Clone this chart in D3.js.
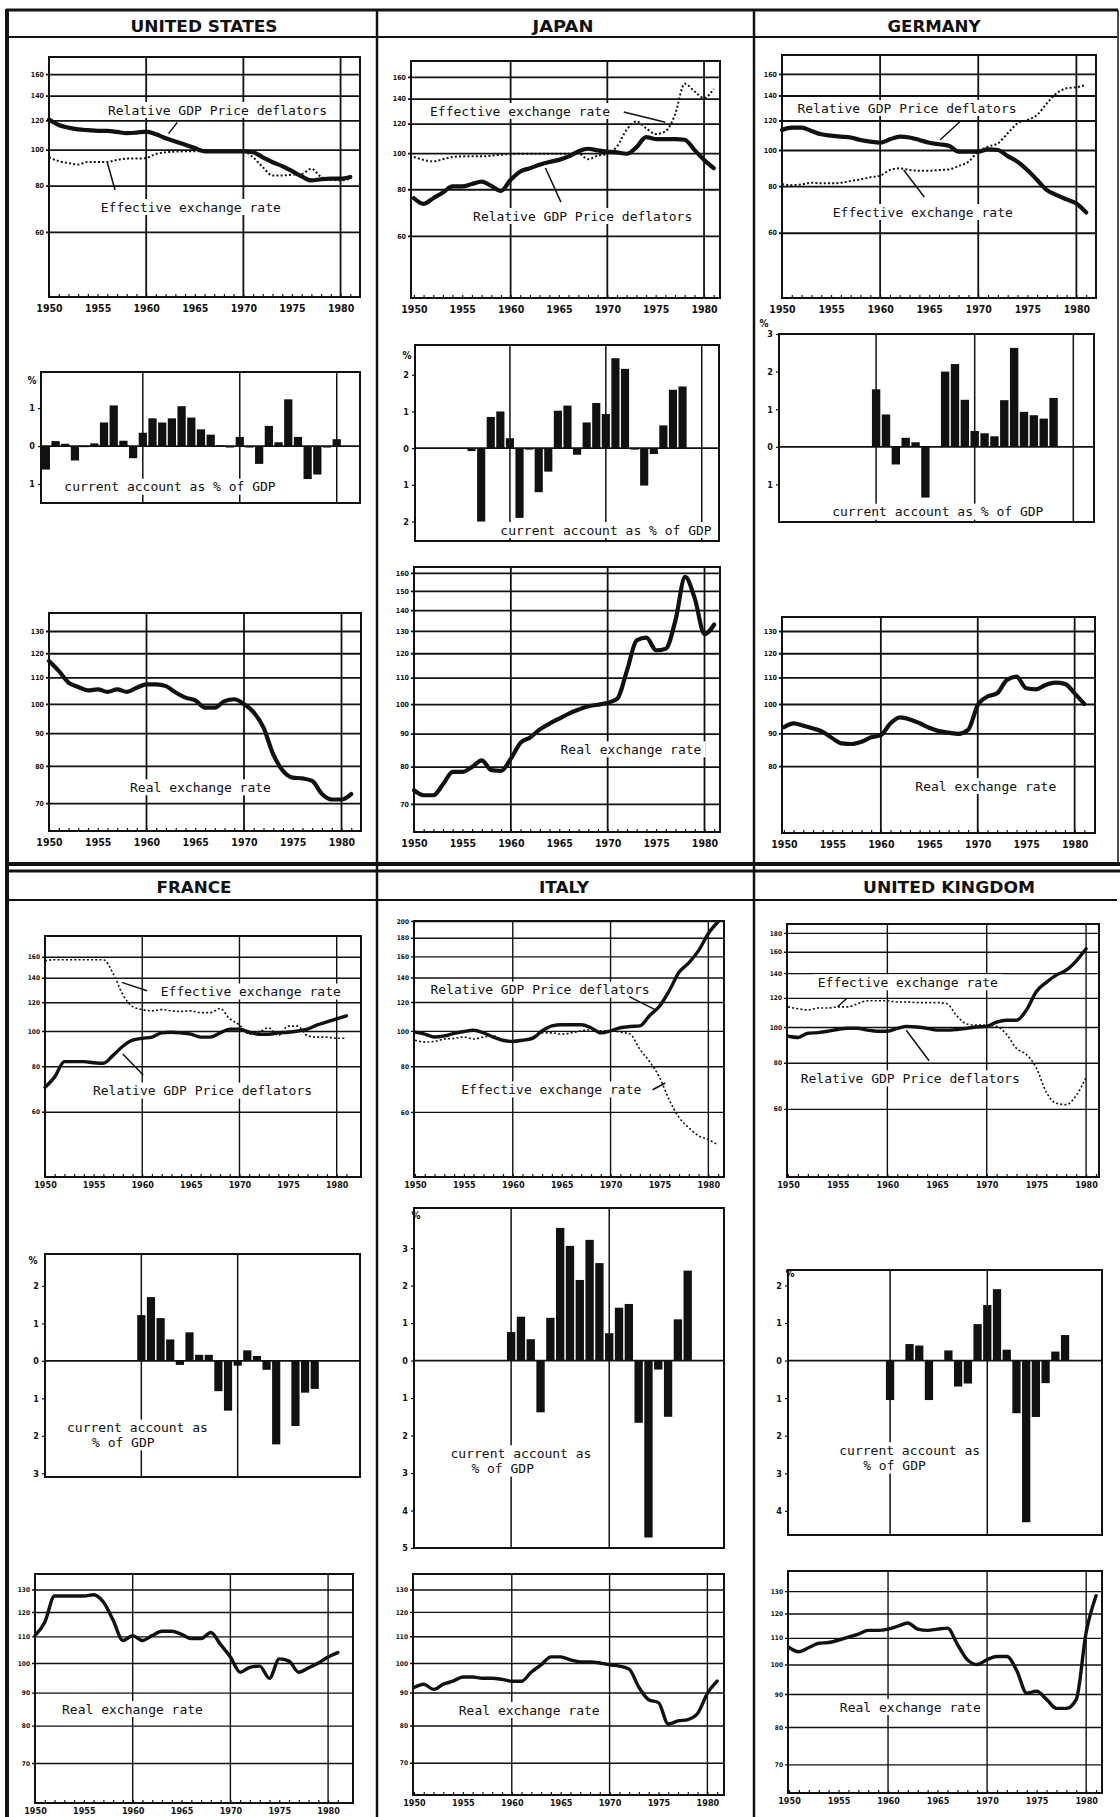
<!DOCTYPE html>
<html>
<head>
<meta charset="utf-8">
<script src="https://cdn.jsdelivr.net/npm/d3@7"></script>
<style>
body{margin:0;background:#fff;}
svg{display:block;}
</style>
</head>
<body>
<svg id="chart" width="1120" height="1817"></svg>
<script>
// years on the x axis
const years=[1950,1951,1952,1953,1954,1955,1956,1957,1958,1959,1960,1961,1962,1963,1964,1965,1966,1967,1968,1969,1970,1971,1972,1973,1974,1975,1976,1977,1978,1979,1980,1981];
const yearLabels=[1950,1955,1960,1965,1970,1975,1980];
const gridYears=[1960,1970,1980];

// relative GDP price deflators / effective exchange rate / current account (% of GDP) / real exchange rate
const usDeflator=[120.7,116.6,114.7,113.5,112.9,112.4,112.4,111.7,110.8,111.2,111.9,110.1,107.4,105.3,103.1,101,99,99,99,99,99,98.4,95.4,92.5,90.3,87.5,84.7,82.6,83.2,83.5,83.5,84.4];
const usEffective=[95.4,93.1,92,91.2,92.7,92.7,92.7,93.8,94.6,94.6,95,97.4,98.4,98.8,99,99,99,99,99,99,99,95.4,89.7,85.2,85.2,85.6,86,88.8,84.4,83,82.6,83.5];
const usCurrent=[-0.62,0.13,0.06,-0.38,0.01,0.07,0.62,1.07,0.14,-0.32,0.35,0.73,0.62,0.73,1.05,0.75,0.44,0.3,0.02,0,0.24,-0.04,-0.47,0.53,0.1,1.23,0.24,-0.87,-0.75,-0.02,0.18,null];
const usReal=[116.7,112.6,108,106.3,105,105.4,104.4,105.4,104.4,106,107.3,107.3,106.6,104.2,102.3,101.3,98.7,98.7,101,101.7,99.9,97,91.8,83.4,78.6,76.7,76.5,75.8,72.3,70.9,70.9,72.3];

const jpDeflator=[75.7,73.1,75.7,78.4,81.4,81.4,82.6,83.9,81.7,79.2,84.8,89.3,91.1,93,94.6,95.9,98,101,102.7,101.7,101,100.4,99.6,103.6,110.4,109,109,109,108.6,102,95.9,91.1];
const jpEffective=[97.6,95.9,95,96.3,97.6,98,98,98,98.4,99,99.6,99.6,99.6,99.6,99.6,99.6,99.6,100,96.3,98.4,99.6,104.2,115.5,121.6,116.7,112.5,114.3,126.8,153.5,146.4,140.5,148.6];
const jpCurrent=[null,null,null,null,null,null,-0.08,-2.0,0.85,1.0,0.27,-1.9,-0.02,-1.2,-0.64,1.02,1.16,-0.18,0.7,1.23,0.93,2.45,2.16,-0.03,-1.02,-0.16,0.62,1.59,1.68,null,null,null];
const jpReal=[73.5,72.2,72.2,75.1,78.5,78.5,79.9,81.8,79,78.8,82.3,87.1,88.8,91.4,93.3,95,96.7,98.1,99.3,99.8,100.5,102,112.9,125.7,126.9,121.3,122,135,157.7,145.9,128.5,133];

const deDeflator=[113.2,114.8,114.8,112.5,110.2,109.3,108.6,108,106.4,105.3,104.6,106.8,108.6,108,106.4,104.6,103.6,102.7,99,99,99,100.4,100,96.3,93,88.4,83.1,78.1,75.7,73.7,71.9,68];
const deEffective=[80.9,80.5,80.9,81.7,81.4,81.4,81.7,82.6,83.4,84.5,85.3,88.4,89.3,88.4,88,88,88.4,88.7,90.6,93,99,102.1,104.2,110.9,117.9,120.4,124.2,133.5,142,146.4,147.3,149.5];
const deCurrent=[null,null,null,null,null,null,null,null,null,null,1.53,0.86,-0.47,0.24,0.12,-1.35,null,2.0,2.2,1.25,0.42,0.36,0.28,1.24,2.63,0.93,0.84,0.75,1.3,null,null,null];
const deReal=[92,93.3,92.5,91.6,90.5,88.4,86.8,86.6,87.3,88.7,89.4,93.3,95.3,94.6,93.3,91.8,90.7,90.2,89.8,91.1,99.6,102.7,103.9,109,110.3,105.8,105.4,107.1,108,107.5,103.9,100];

const frDeflator=[70,74.8,82.4,82.4,82.4,81.8,81.5,85.7,90.8,94.4,95.5,96.2,98.8,99.2,98.8,98,96.2,96.2,98.8,101.2,101.2,99.2,98,98,98.8,99.2,100,101.2,103.9,106,108,110.1];
const frEffective=[155.9,157,157,157,157,157,157,144,126,116.7,114.5,113.6,114.5,113.6,113.2,113.6,112.3,112.3,115.3,108,103.9,98,99.2,102,97.3,103.1,103.1,97,96.2,96.2,95.5,95.5];
const frCurrent=[null,null,null,null,null,null,null,null,null,null,1.22,1.7,1.14,0.57,-0.11,0.76,0.16,0.16,-0.81,-1.33,-0.13,0.28,0.13,-0.24,-2.23,null,-1.74,-0.85,-0.75,null,null,null];
const frReal=[110.3,115.7,127,127,127,127,127.6,124.3,116.5,108.4,110.3,108.4,110.3,112,112,110.8,109.1,109.1,111.5,106.8,102.2,96.8,98.5,98.9,94.7,101.5,100.7,96.8,98.3,100,102.2,103.8];

const itDeflator=[99.2,98,96.2,96.9,98.5,99.6,100.4,98.8,96.2,94.3,93.6,94.3,95.4,100,103.2,104,104,104,102,98.8,100,102,102.8,103.2,110.2,116.8,128.8,144.7,153.5,165.9,184.9,199];
const itEffective=[94.3,93.2,93.6,95,95.4,96.2,95,96.2,97,94.3,93.6,94.3,96.2,98.8,98.8,98,98.8,100,100.8,100,100,99.2,98,89,82.3,74.7,64.7,58,54.3,51.6,50.4,48.7];
const itCurrent=[null,null,null,null,null,null,null,null,null,null,0.76,1.17,0.57,-1.38,1.14,3.54,3.06,2.15,3.22,2.6,0.73,1.41,1.51,-1.66,-4.72,-0.24,-1.5,1.1,2.4,null,null,null];
const itReal=[91.6,92.7,91,92.7,93.7,95.1,95.1,94.7,94.7,94.3,93.7,93.7,96.8,99.3,102.2,102.2,101.1,100.4,100.4,100,99.3,98.9,97.8,91.7,87.7,86.8,80.4,81.3,81.7,83.5,89.7,93.7];

const ukDeflator=[94.4,93.7,96.2,96.6,97.4,98.5,99.2,99.2,98.1,97.4,97.4,99.2,100.4,100,99.2,98.1,98.1,98.5,99.2,100,100.4,103.1,104.3,104.3,111.3,124.8,132.2,138.3,142.6,151,163,null];
const ukEffective=[113.4,112.1,111.3,112.6,112.6,113.4,113.4,115.6,117.8,117.8,117.8,116.9,116.9,116.5,116.5,116.5,115.6,107.1,101.9,101.2,101.2,100.4,95.5,87.5,84.2,77.4,66.5,62.1,61.6,65.2,73,null];
const ukCurrent=[null,null,null,null,null,null,null,null,null,null,-1.05,null,0.44,0.4,-1.05,null,0.27,-0.69,-0.61,0.97,1.48,1.9,0.29,-1.4,-4.3,-1.5,-0.6,0.24,0.68,null,null,null];
const ukReal=[106.3,104.7,106.3,107.9,108.2,109.1,110.3,111.5,113,113,113.5,114.7,116,113.5,113,113.5,113.9,107.5,101.8,100,101.8,102.9,102.9,97.8,90.3,90.9,88.3,85.5,85.5,88.3,112.2,127.9];

// tick labels
const priceTicks=[60,80,100,120,140,160];
const priceTicksIt=[60,80,100,120,140,160,180,200];
const priceTicksUk=[60,80,100,120,140,160,180];
const realTicks=[70,80,90,100,110,120,130];
const realTicksJp=[70,80,90,100,110,120,130,140,150,160];
const realTicksDe=[80,90,100,110,120,130];

const txtRel="Relative GDP Price deflators",txtEff="Effective exchange rate",txtReal="Real exchange rate";

// layout table: frames in px, domains, label spots (relative to frame)
const panels=[
 {title:"UNITED STATES",tx:204,tw:147,row:0,deflator:usDeflator,effective:usEffective,current:usCurrent,real:usReal,
  top:{l:49,r:360,t:57,b:297,x0:1950,x1:1982,y0:40,y1:178,ticks:priceTicks,
   labels:[{t:txtRel,x:168.5,y:53},{t:txtEff,x:141.8,y:150}],leaders:[[1962.3,110.5,1963.2,118.5],[1956,92.3,1956.8,77.8]]},
  bar:{l:41,r:360,t:372,b:503,x0:1949.5,x1:1982.4,y0:-1.5,y1:1.95,ticks:[1,0,-1],grid:gridYears,pct:[-9,8],
   labels:[{t:"current account as % of GDP",x:129,y:114.7}]},
  realP:{l:49,r:361,t:613,b:831,x0:1950,x1:1982,y0:63.3,y1:138.7,ticks:realTicks,labels:[{t:txtReal,x:151.5,y:174.3}]}},
 {title:"JAPAN",tx:563,tw:61,row:0,deflator:jpDeflator,effective:jpEffective,current:jpCurrent,real:jpReal,
  top:{l:411,r:720,t:61,b:298,x0:1949.7,x1:1981.65,y0:40.9,y1:176.5,ticks:priceTicks,
   labels:[{t:txtEff,x:109,y:50},{t:txtRel,x:171.7,y:155}],leaders:[[1971.7,128.8,1976,121],[1963.6,91.2,1965.2,73.9]]},
  bar:{l:415,r:719,t:345,b:541,x0:1950.1,x1:1981.8,y0:-2.53,y1:2.81,ticks:[2,1,0,-1,-2],grid:gridYears,pct:[-8,10],
   labels:[{t:"current account as % of GDP",x:191,y:185}]},
  realP:{l:414,r:720,t:567,b:832,x0:1950,x1:1981.6,y0:63.3,y1:163.4,ticks:realTicksJp,labels:[{t:txtReal,x:217,y:182.3}]}},
 {title:"GERMANY",tx:934,tw:93,row:0,deflator:deDeflator,effective:deEffective,current:deCurrent,real:deReal,
  top:{l:782,r:1096,t:55,b:298,x0:1950,x1:1982,y0:40.1,y1:179.8,ticks:priceTicks,
   labels:[{t:txtRel,x:125,y:53},{t:txtEff,x:140.8,y:157}],leaders:[[1968.1,118.9,1966.1,106.4],[1962.4,88.4,1964.5,74.8]]},
  bar:{l:779,r:1094,t:334,b:522,x0:1950.15,x1:1982.1,y0:-2,y1:3,ticks:[3,2,1,0,-1],grid:gridYears,pct:[-15,-11],
   labels:[{t:"current account as % of GDP",x:158.8,y:177.7}]},
  realP:{l:782,r:1095,t:617,b:833,x0:1949.8,x1:1982.1,y0:62.9,y1:136.7,ticks:realTicksDe,labels:[{t:txtReal,x:203.8,y:169}]}},
 {title:"FRANCE",tx:194,tw:75,row:1,deflator:frDeflator,effective:frEffective,current:frCurrent,real:frReal,
  top:{l:45,r:361,t:936,b:1177,x0:1950,x1:1982.5,y0:39.7,y1:182.4,ticks:priceTicks,
   labels:[{t:txtEff,x:205.8,y:55.5},{t:txtRel,x:157.5,y:154.6}],leaders:[[1957.9,136,1960.5,129],[1958,86.5,1960.1,75.7]]},
  bar:{l:45,r:360,t:1254,b:1477,x0:1950,x1:1982.7,y0:-3.1,y1:2.85,ticks:[2,1,0,-1,-2,-3],grid:[1960,1970],pct:[-12,6],
   labels:[{t:"current account as",x:92.5,y:173.6},{t:"% of GDP",x:78.3,y:188.3}]},
  realP:{l:35,r:353,t:1574,b:1803,x0:1950,x1:1982.55,y0:60.7,y1:137.4,ticks:realTicks,labels:[{t:txtReal,x:97.5,y:135}]}},
 {title:"ITALY",tx:564,tw:50,row:1,deflator:itDeflator,effective:itEffective,current:itCurrent,real:itReal,
  top:{l:414,r:724,t:921,b:1177,x0:1949.9,x1:1981.6,y0:39.8,y1:200,ticks:priceTicksIt,
   labels:[{t:txtRel,x:126,y:68.7},{t:txtEff,x:137.3,y:168.4}],leaders:[[1971.9,124.2,1974.5,114.6],[1974.3,69,1975.6,72]]},
  bar:{l:414,r:724,t:1208,b:1548,x0:1950.1,x1:1981.7,y0:-5,y1:4.07,ticks:[3,2,1,0,-1,-2,-3,-4,-5],grid:[1960,1970],pct:[2,7],
   labels:[{t:"current account as",x:107,y:245.3},{t:"% of GDP",x:88.7,y:260.6}]},
  realP:{l:413,r:724,t:1574,b:1795,x0:1949.9,x1:1981.7,y0:62.4,y1:137.4,ticks:realTicks,labels:[{t:txtReal,x:116.2,y:136}]}},
 {title:"UNITED KINGDOM",tx:949,tw:172,row:1,deflator:ukDeflator,effective:ukEffective,current:ukCurrent,real:ukReal,
  top:{l:787,r:1099,t:924,b:1177,x0:1949.9,x1:1981.3,y0:39.2,y1:190.3,ticks:priceTicksUk,
   labels:[{t:txtEff,x:120.8,y:58.3},{t:txtRel,x:123.3,y:154.4}],leaders:[[1955,113.5,1955.9,119.5],[1961.9,98,1964.2,81]]},
  bar:{l:788,r:1102,t:1270,b:1535,x0:1949.5,x1:1981.8,y0:-4.64,y1:2.41,ticks:[2,1,0,-1,-2,-3,-4],grid:[1960,1970],pct:[2,3],
   labels:[{t:"current account as",x:121.7,y:180.2},{t:"% of GDP",x:106.5,y:195.5}]},
  realP:{l:788,r:1102,t:1571,b:1793,x0:1949.9,x1:1981.6,y0:63.2,y1:139.7,ticks:realTicks,labels:[{t:txtReal,x:122.3,y:136}]}}
];

const ink="#111";
const mono="'DejaVu Sans Mono','Liberation Mono',monospace";
const cond="'DejaVu Sans Condensed','Liberation Sans Narrow','DejaVu Sans',sans-serif";
const svg=d3.select("#chart");
svg.append("rect").attr("width",1120).attr("height",1817).attr("fill","#fff");

// page frame
const frameG=svg.append("g").attr("stroke",ink).attr("fill","none");
frameG.append("line").attr("x1",6).attr("x2",1118).attr("y1",10).attr("y2",10).attr("stroke-width",3);
frameG.append("line").attr("x1",7).attr("x2",1117).attr("y1",37).attr("y2",37).attr("stroke-width",2);
frameG.append("line").attr("x1",5).attr("x2",1120).attr("y1",864).attr("y2",864).attr("stroke-width",4);
frameG.append("line").attr("x1",5).attr("x2",1120).attr("y1",871).attr("y2",871).attr("stroke-width",3);
frameG.append("line").attr("x1",7).attr("x2",1117).attr("y1",900).attr("y2",900).attr("stroke-width",2);
frameG.append("line").attr("x1",7).attr("x2",7).attr("y1",9).attr("y2",1817).attr("stroke-width",4);
frameG.append("line").attr("x1",377).attr("x2",377).attr("y1",10).attr("y2",1817).attr("stroke-width",2.5);
frameG.append("line").attr("x1",754).attr("x2",754).attr("y1",10).attr("y2",1817).attr("stroke-width",2.5);
frameG.append("line").attr("x1",1118).attr("x2",1118).attr("y1",10).attr("y2",864).attr("stroke-width",1.5);

function labelBlock(g,p,labels){
  const kg=g.append("g"),tg=g.append("g");
  labels.forEach(function(d){
    const t=tg.append("text").attr("x",p.l+d.x).attr("y",p.t+d.y).attr("text-anchor","middle")
      .attr("dominant-baseline","central").attr("font-family",mono).attr("font-size",13).attr("fill",ink).text(d.t);
    const bb=t.node().getBBox();
    kg.append("rect").attr("x",bb.x-4).attr("y",p.t+d.y-8).attr("width",bb.width+8).attr("height",16).attr("fill","#fff");
  });
}

function xAxis(g,x,p,row){
  const dom=years.filter(d=>d>=p.x0&&d<=p.x1);
  const a1=g.append("g").attr("transform","translate(0,"+p.b+")")
    .call(d3.axisBottom(x).tickValues(dom).tickSize(-3).tickFormat(""));
  a1.select(".domain").remove();
  a1.selectAll("line").attr("stroke",ink).attr("stroke-width",1.2);
  const a2=g.append("g").attr("transform","translate(0,"+p.b+")")
    .call(d3.axisBottom(x).tickValues(yearLabels).tickSize(0).tickPadding(row?5:8).tickFormat(d=>d));
  a2.select(".domain").remove();
  a2.selectAll("text").attr("font-family",cond).attr("font-weight","bold").attr("font-size",row?9:10.5).attr("fill",ink);
}

function yAxisLog(g,y,p,row){
  const w=p.r-p.l;
  const a=g.append("g").attr("transform","translate("+p.l+",0)")
    .call(d3.axisLeft(y).tickValues(p.ticks).tickFormat(d=>d).tickSizeInner(-w).tickSizeOuter(0).tickPadding(5));
  a.select(".domain").remove();
  a.selectAll("line").attr("x1",-3).attr("stroke",ink).attr("stroke-width",row?1.4:1.8);
  a.selectAll("text").attr("font-family",cond).attr("font-weight","bold").attr("font-size",row?6.5:7).attr("fill",ink);
}

function vGrid(g,x,p,list,sw){
  g.append("g").selectAll("line").data(list).join("line")
    .attr("x1",d=>x(d)).attr("x2",d=>x(d)).attr("y1",p.t).attr("y2",p.b)
    .attr("stroke",ink).attr("stroke-width",sw);
}

function box(g,p){
  g.append("rect").attr("x",p.l).attr("y",p.t).attr("width",p.r-p.l).attr("height",p.b-p.t)
    .attr("fill","none").attr("stroke",ink).attr("stroke-width",2);
}

function series(g,x,y,vals,w,dash){
  const line=d3.line().defined(d=>d[1]!=null).x(d=>x(d[0])).y(d=>y(d[1])).curve(d3.curveMonotoneX);
  const pts=years.map((yr,i)=>[yr,vals[i]]);
  const path=g.append("path").datum(pts).attr("d",line).attr("fill","none").attr("stroke",ink)
    .attr("stroke-width",w).attr("stroke-linejoin","round").attr("stroke-linecap",dash?"butt":"round");
  if(dash) path.attr("stroke-dasharray",dash);
}

panels.forEach(function(c){
  const row=c.row;
  // header
  svg.append("text").attr("x",c.tx).attr("y",row?893:32).attr("text-anchor","middle")
    .attr("font-family","'DejaVu Sans',sans-serif").attr("font-weight","bold").attr("font-size",15)
    .attr("textLength",c.tw).attr("lengthAdjust","spacingAndGlyphs").attr("fill",ink).text(c.title);

  // top panel: relative deflators and effective exchange rate
  let p=c.top,g=svg.append("g");
  let x=d3.scaleLinear().domain([p.x0,p.x1]).range([p.l,p.r]);
  let y=d3.scaleLog().domain([p.y0,p.y1]).range([p.b,p.t]);
  yAxisLog(g,y,p,row);
  vGrid(g,x,p,gridYears,row?1.4:1.8);
  box(g,p);
  xAxis(g,x,p,row);
  labelBlock(g,p,p.labels);
  series(g,x,y,c.effective,row?1.6:2,"2,2.2");
  series(g,x,y,c.deflator,row?3.4:4.2,null);
  g.append("g").selectAll("line").data(p.leaders).join("line")
    .attr("x1",d=>x(d[0])).attr("y1",d=>y(d[1])).attr("x2",d=>x(d[2])).attr("y2",d=>y(d[3]))
    .attr("stroke",ink).attr("stroke-width",1.5);

  // bar panel: current account
  p=c.bar; g=svg.append("g");
  x=d3.scaleLinear().domain([p.x0,p.x1]).range([p.l,p.r]);
  y=d3.scaleLinear().domain([p.y0,p.y1]).range([p.b,p.t]);
  vGrid(g,x,p,p.grid,1.5);
  box(g,p);
  const ya=g.append("g").attr("transform","translate("+p.l+",0)")
    .call(d3.axisLeft(y).tickValues(p.ticks).tickFormat(d=>Math.abs(d)).tickSize(3).tickPadding(3));
  ya.select(".domain").remove();
  ya.selectAll("line").attr("stroke",ink).attr("stroke-width",1.2);
  ya.selectAll("text").attr("font-family",cond).attr("font-weight","bold").attr("font-size",9).attr("fill",ink);
  g.append("text").attr("x",p.l+p.pct[0]).attr("y",p.t+p.pct[1]).attr("text-anchor","middle")
    .attr("dominant-baseline","central").attr("font-family",cond).attr("font-weight","bold")
    .attr("font-size",10).attr("fill",ink).text("%");
  labelBlock(g,p,p.labels);
  g.append("line").attr("x1",p.l).attr("x2",p.r).attr("y1",y(0)).attr("y2",y(0)).attr("stroke",ink).attr("stroke-width",1.8);
  const bw=(x(1951)-x(1950))*0.85;
  const bars=years.map((yr,i)=>({yr:yr,v:c.current[i]})).filter(d=>d.v!=null);
  g.append("g").selectAll("rect").data(bars).join("rect")
    .attr("x",d=>x(d.yr)-bw/2).attr("width",bw)
    .attr("y",d=>y(Math.max(0,d.v))).attr("height",d=>Math.max(1.5,Math.abs(y(d.v)-y(0))))
    .attr("fill",ink);

  // bottom panel: real exchange rate
  p=c.realP; g=svg.append("g");
  x=d3.scaleLinear().domain([p.x0,p.x1]).range([p.l,p.r]);
  y=d3.scaleLog().domain([p.y0,p.y1]).range([p.b,p.t]);
  yAxisLog(g,y,p,row);
  vGrid(g,x,p,gridYears,row?1.4:1.8);
  box(g,p);
  xAxis(g,x,p,row);
  labelBlock(g,p,p.labels);
  series(g,x,y,c.real,row?3.4:4.2,null);
});
</script>
</body>
</html>
